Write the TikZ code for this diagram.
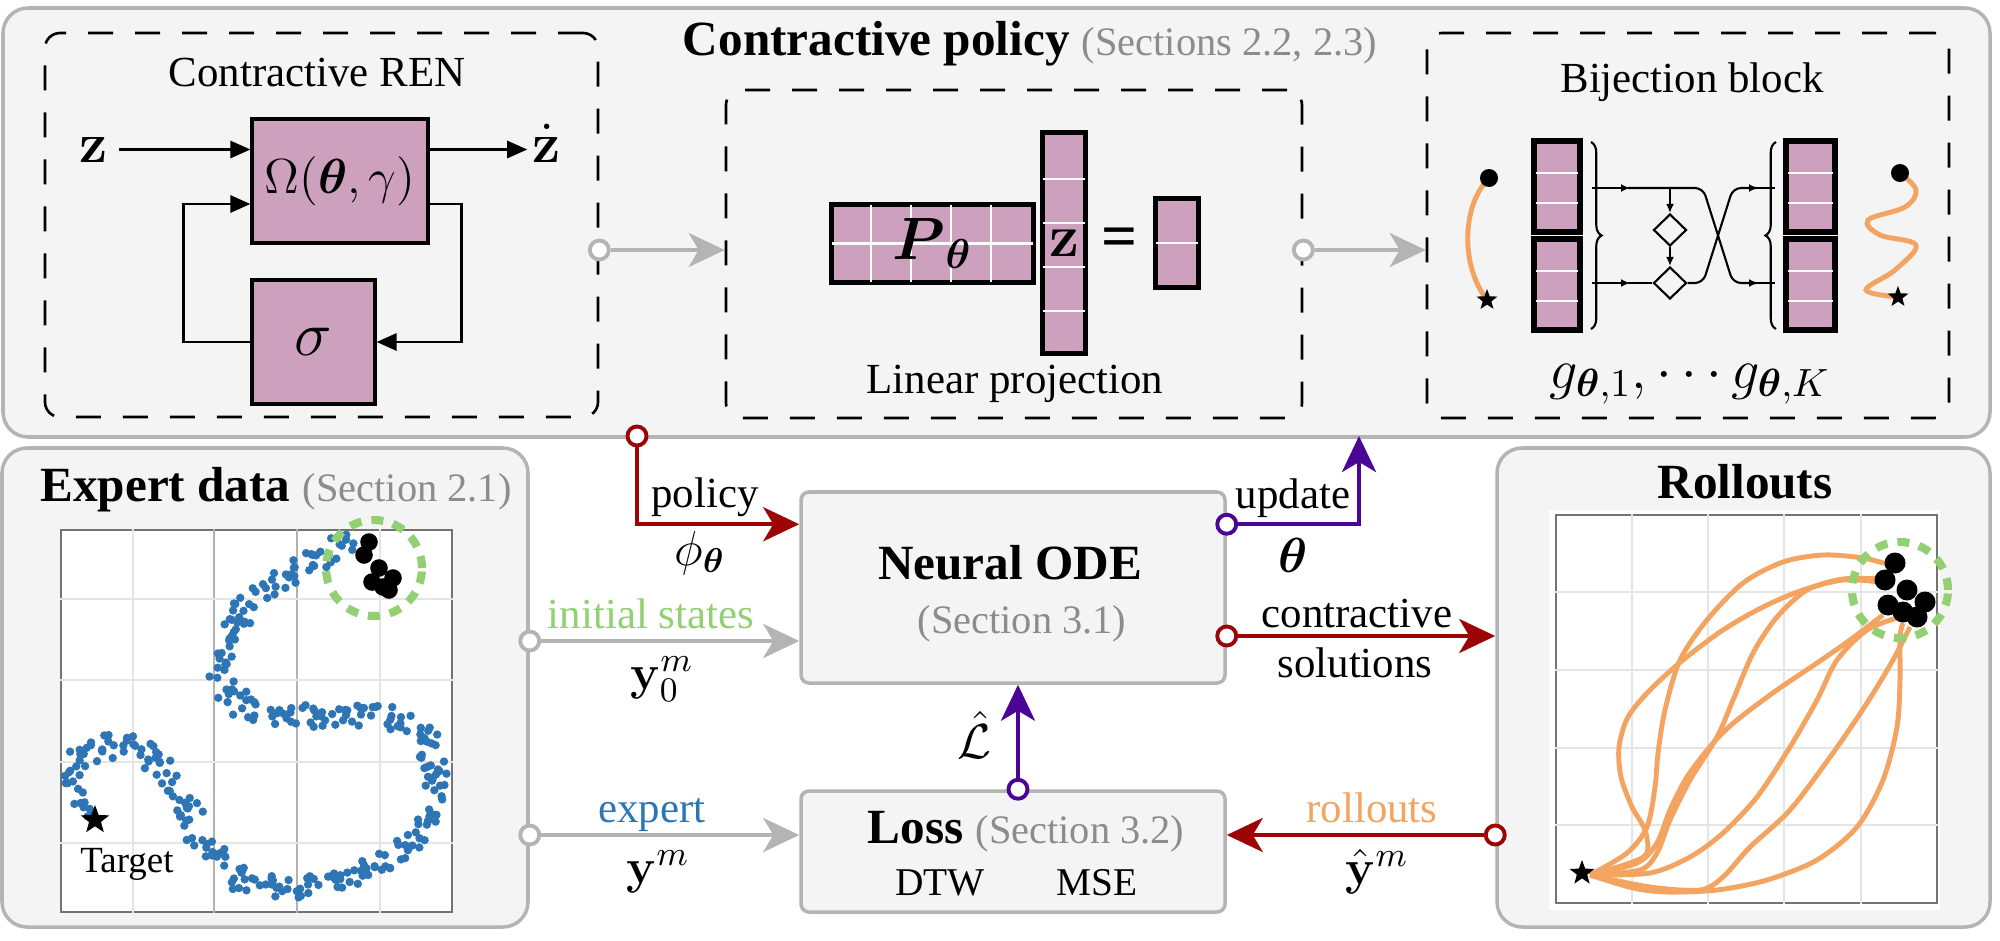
\RequirePackage{fix-cm}
\documentclass[tikz,border=0pt]{standalone}
\usepackage{amsmath}
\usepackage{amssymb}
\usepackage[no-math]{fontspec}
\setmainfont{Liberation Serif}
\usetikzlibrary{arrows.meta,positioning,shapes.geometric,decorations.pathreplacing}
\definecolor{P}{RGB}{205,161,190}
\definecolor{R}{RGB}{155,5,5}
\definecolor{V}{RGB}{75,5,150}
\definecolor{Gy}{RGB}{180,180,180}
\definecolor{G}{RGB}{146,208,115}
\definecolor{B}{RGB}{46,117,182}
\definecolor{O}{RGB}{243,164,96}
\definecolor{S}{RGB}{140,140,140}
\definecolor{bg}{RGB}{244,244,244}
\newcommand{\secref}[1]{{\normalfont\fontsize{11.5}{14}\selectfont\color{S}(#1)}}

\begin{document}
\begin{tikzpicture}[
  panel/.style={draw=Gy, line width=1pt, fill=bg, rounded corners=0.25cm, inner sep=0},
  dbox/.style={draw, line width=0.75pt, dash pattern=on 0.25cm off 0.22cm, rounded corners=0.15cm, inner sep=0},
  gbox/.style={draw=Gy, line width=1pt, fill=bg, rounded corners=0.08cm, inner sep=0},
  pbox/.style={draw, line width=0.9pt, fill=P, inner sep=0},
  port/.style={circle, draw, fill=white, line width=1.1pt, inner sep=0, minimum size=0.19cm},
  con/.style={line width=1.2pt, -{Stealth[length=0.36cm, width=0.34cm, inset=0.1cm]}},
  blk/.style={line width=0.8pt, -{Triangle[length=0.2cm, width=0.17cm]}},
  fine/.style={line width=0.6pt},
  marr/.style={-{Latex[length=0.09cm, width=0.08cm]}},
  cell/.style={white, line width=0.6pt},
  lbl/.style={font=\fontsize{12.2}{14}\selectfont, anchor=base, inner sep=0},
  ttl/.style={font=\fontsize{14}{16}\selectfont\bfseries, anchor=base, inner sep=0},
  mth/.style={font=\fontsize{14}{16}\selectfont, inner sep=0},
  ring/.style={draw=G, line width=2.3pt, dash pattern=on 0.12cm off 0.1cm},
  traj/.style={draw=O, line width=1.4pt},
  tgt/.style={star, star points=5, star point ratio=2.4, fill=black, inner sep=0},
]
\useasboundingbox (0,0) rectangle (20,9.4);

% panels
\node[panel, minimum width=19.87cm, minimum height=4.29cm] (top) at (9.965,7.175) {};
\node[panel, minimum width=5.26cm, minimum height=4.79cm] (expert) at (2.65,2.525) {};
\node[panel, minimum width=4.93cm, minimum height=4.79cm] (roll) at (17.435,2.525) {};

\node[ttl] (cpt) at (10.30,8.85) {Contractive policy \secref{Sections 2.2, 2.3}};

% contractive REN
\node[dbox, minimum width=5.53cm, minimum height=3.84cm] (ren) at (3.215,7.15) {};
\node[lbl] (rent) at (3.17,8.54) {Contractive REN};
\node[pbox, minimum width=1.76cm, minimum height=1.24cm, font=\fontsize{14}{16}\selectfont] (om) at (3.40,7.59) {$\Omega(\boldsymbol{\theta},\gamma)$};
\node[pbox, minimum width=1.23cm, minimum height=1.24cm, font=\fontsize{18}{20}\selectfont] (sig) at (3.135,5.98) {$\sigma$};
\node[font=\fontsize{16}{18}\selectfont, anchor=base, inner sep=0] (zin) at (0.94,7.78) {$\mathbf{z}$};
\node[font=\fontsize{16}{18}\selectfont, anchor=base, inner sep=0] (zout) at (5.47,7.78) {$\dot{\mathbf{z}}$};
\draw[blk] ([xshift=0.1cm]zin.east) -- (om.west |- zin);
\draw[blk] (om.east |- zin) -- ([xshift=-0.05cm]zout.west |- zin);
\draw[blk] ([yshift=-0.23cm]om.east) -- ++(0.32,0) |- (sig.east);
\draw[blk] (sig.west) -- ++(-0.67,0) |- ([yshift=-0.23cm]om.west);

% linear projection
\node[dbox, minimum width=5.76cm, minimum height=3.28cm] (lp) at (10.14,6.86) {};
\node[pbox, minimum width=2.01cm, minimum height=0.77cm] (pm) at (9.325,6.965) {};
\foreach \i in {1,...,4}
  \draw[cell] ([xshift=\i*0.402cm]pm.south west) -- ([xshift=\i*0.402cm]pm.north west);
\draw[cell] (pm.west) -- (pm.east);
\draw[line width=0.9pt] (pm.south west) rectangle (pm.north east);
\node[font=\fontsize{17}{19}\selectfont, inner sep=0] (pml) at (pm) {$\boldsymbol{P}_{\boldsymbol{\theta}}$};
\node[pbox, minimum width=0.42cm, minimum height=2.20cm] (zv) at (10.64,6.97) {};
\foreach \i in {1,...,4}
  \draw[cell] ([yshift=\i*0.44cm]zv.south west) -- ([yshift=\i*0.44cm]zv.south east);
\draw[line width=0.9pt] (zv.south west) rectangle (zv.north east);
\node[font=\fontsize{17}{19}\selectfont, inner sep=0] (zvl) at (zv) {$\mathbf{z}$};
\node[font=\fontsize{18}{20}\selectfont\bfseries, inner sep=0] (eq) at (11.195,6.97) {=};
\node[pbox, minimum width=0.42cm, minimum height=0.88cm] (rv) at (11.77,6.97) {};
\draw[cell] (rv.west) -- (rv.east);
\draw[line width=0.9pt] (rv.south west) rectangle (rv.north east);
\node[lbl] (lpt) at (10.15,5.47) {Linear projection};

% bijection block
\node[dbox, minimum width=5.22cm, minimum height=3.85cm] (bij) at (16.88,7.145) {};
\node[lbl] (bijt) at (16.92,8.48) {Bijection block};
\foreach \n/\x/\y/\w in {bl1/15.57/7.535/0.44cm, bl2/15.57/6.555/0.44cm, br1/18.105/7.535/0.47cm, br2/18.105/6.555/0.47cm}{
  \node[pbox, minimum width=\w, minimum height=0.89cm] (\n) at (\x,\y) {};
  \draw[cell] ([yshift=0.297cm]\n.south west) -- ([yshift=0.297cm]\n.south east);
  \draw[cell] ([yshift=0.593cm]\n.south west) -- ([yshift=0.593cm]\n.south east);
  \draw[line width=1.3pt] (\n.south west) rectangle (\n.north east);
}
\draw[fine, decorate, decoration={brace, amplitude=3pt}] (15.91,7.98) -- (15.91,6.11);
\draw[fine, decorate, decoration={brace, amplitude=3pt}] (17.76,6.11) -- (17.76,7.98);
\node[diamond, draw, fine, fill=bg, minimum width=0.33cm, minimum height=0.32cm, inner sep=0] (d1) at (16.70,7.10) {};
\node[diamond, draw, fine, fill=bg, minimum width=0.33cm, minimum height=0.32cm, inner sep=0] (d2) at (16.70,6.57) {};
\draw[fine, marr] (15.92,7.52) -- (16.30,7.52);
\draw[fine, rounded corners=0.08cm] (16.28,7.52) -- (17.03,7.52) -- (17.33,6.57) -- (17.56,6.57);
\draw[fine, marr] (17.50,6.57) -- (17.58,6.57);
\draw[fine] (17.56,6.57) -- (17.75,6.57);
\draw[fine, marr] (15.92,6.57) -- (16.30,6.57);
\draw[fine] (16.28,6.57) -- (d2.west);
\draw[fine, rounded corners=0.08cm] (d2.east) -- (17.03,6.57) -- (17.33,7.52) -- (17.56,7.52);
\draw[fine, marr] (17.50,7.52) -- (17.58,7.52);
\draw[fine] (17.56,7.52) -- (17.75,7.52);
\draw[fine, marr] (16.70,7.52) -- (d1.north);
\draw[fine, marr] (d1.south) -- (d2.north);

\coordinate (ld) at (14.89,7.62);
\coordinate (ls) at (14.87,6.40);
\draw[traj] (ld) .. controls (14.62,7.35) and (14.60,6.75) .. (ls);
\fill (ld) circle (0.09);
\node[tgt, minimum size=0.22cm] (lstar) at (ls) {};
\coordinate (rd) at (19.00,7.67);
\coordinate (rs) at (18.98,6.43);
\draw[traj] plot[smooth, tension=0.6] coordinates {(19.00,7.67) (19.16,7.50) (19.05,7.33) (18.68,7.20) (18.80,7.05) (19.16,6.95) (18.95,6.70) (18.66,6.50) (18.98,6.43)};
\fill (rd) circle (0.09);
\node[tgt, minimum size=0.22cm] (rstar) at (rs) {};
\node[font=\fontsize{16}{18}\selectfont, anchor=base, inner sep=0] (gl) at (16.90,5.52) {$g_{\boldsymbol{\theta},1},\cdots g_{\boldsymbol{\theta},K}$};

\node[port, draw=Gy] (p1) at (ren.east |- 0,6.90) {};
\draw[con, Gy] (p1) -- (lp.west |- p1);
\node[port, draw=Gy] (p2) at (lp.east |- 0,6.90) {};
\draw[con, Gy] (p2) -- (bij.west |- p2);

% neural ODE and loss
\node[gbox, minimum width=4.24cm, minimum height=1.91cm] (ode) at (10.13,3.525) {};
\node[ttl] (odet) at (10.10,3.61) {Neural ODE};
\node[anchor=base, inner sep=0, font=\fontsize{11.5}{14}\selectfont, text=S] (odes) at (10.22,3.07) {(Section 3.1)};
\node[gbox, minimum width=4.24cm, minimum height=1.21cm] (loss) at (10.13,0.885) {};
\node[ttl] (losst) at (10.26,0.97) {Loss \secref{Section 3.2}};
\node[anchor=base, inner sep=0, font=\fontsize{11.2}{13}\selectfont] (dtw) at (9.40,0.45) {DTW};
\node[anchor=base, inner sep=0, font=\fontsize{11.2}{13}\selectfont] (mse) at (10.97,0.45) {MSE};

% connectors
\node[port, draw=R] (pol) at (6.37,5.04) {};
\draw[con, R] (pol) |- ([yshift=-0.34cm]ode.north west);
\node[lbl] (lpol) at (7.05,4.33) {policy};
\node[mth] (lphi) at (7.00,3.87) {$\phi_{\boldsymbol{\theta}}$};

\node[port, draw=V] (upd) at ([yshift=-0.34cm]ode.north east) {};
\coordinate (updend) at (13.59,5.04);
\draw[con, V] (upd) -| (updend);
\node[lbl] (lupd) at (12.93,4.32) {update};
\node[mth] (lth) at (12.93,3.85) {$\boldsymbol{\theta}$};

\node[port, draw=Gy] (ini) at (expert.east |- 0,2.99) {};
\draw[con, Gy] (ini) -- (ode.west |- ini);
\node[lbl, text=G] (lini) at (6.51,3.12) {initial states};
\node[mth] (ly0) at (6.62,2.61) {$\mathbf{y}_0^m$};

\node[port, draw=Gy] (exq) at (expert.east |- 0,1.05) {};
\draw[con, Gy] (exq) -- (loss.west |- exq);
\node[lbl, text=B] (lexp) at (6.52,1.18) {expert};
\node[mth] (lym) at (6.58,0.68) {$\mathbf{y}^m$};

\node[port, draw=V] (lq) at (loss.north -| 10.18,0) {};
\draw[con, V] (lq) -- (ode.south -| lq);
\node[mth] (lL) at (9.74,2.05) {$\hat{\mathcal{L}}$};

\node[port, draw=R] (sol) at (ode.east |- 0,3.04) {};
\draw[con, R] (sol) -- (roll.west |- sol);
\node[lbl] (lcon) at (13.57,3.13) {contractive};
\node[lbl] (lsol) at (13.55,2.63) {solutions};

\node[port, draw=R] (rq) at (roll.west |- 0,1.05) {};
\draw[con, R] (rq) -- (loss.east |- rq);
\node[lbl, text=O] (lrol) at (13.72,1.18) {rollouts};
\node[mth] (lyh) at (13.77,0.68) {$\hat{\mathbf{y}}^m$};

% expert data
\node[ttl] (expt) at (2.76,4.39) {Expert data \secref{Section 2.1}};
\node[draw=black!55, line width=0.5pt, fill=white, minimum width=3.91cm, minimum height=3.82cm, inner sep=0] (eplot) at (2.565,2.19) {};
\foreach \x in {1.33,3.80} \draw[black!10] (eplot.south -| \x,0) -- (eplot.north -| \x,0);
\foreach \x in {2.14,2.97} \draw[black!30] (eplot.south -| \x,0) -- (eplot.north -| \x,0);
\foreach \y in {3.41,2.60,1.78,0.97} \draw[black!10] (eplot.west |- 0,\y) -- (eplot.east |- 0,\y);
\pgfmathsetseed{42}
% noisy samples along the demonstrations
\foreach \xa/\ya/\xb/\yb in {3.55/3.97/3.10/3.77, 3.10/3.77/2.76/3.60, 2.76/3.60/2.48/3.37, 2.48/3.37/2.27/3.07,
  2.27/3.07/2.21/2.73, 2.21/2.73/2.34/2.40, 2.34/2.40/2.69/2.23, 2.69/2.23/3.27/2.23, 3.27/2.23/3.79/2.23,
  3.79/2.23/4.24/2.07, 4.24/2.07/4.38/1.67, 4.38/1.67/4.31/1.23, 4.31/1.23/3.96/0.83, 3.96/0.83/3.45/0.60,
  3.45/0.60/2.93/0.50, 2.93/0.50/2.41/0.60, 2.41/0.60/2.07/0.93, 2.07/0.93/1.83/1.33, 1.83/1.33/1.62/1.73,
  1.62/1.73/1.31/1.93, 1.31/1.93/0.93/1.93, 0.93/1.93/0.72/1.70, 0.72/1.70/0.79/1.40, 0.79/1.40/0.86/1.30}{
  \pgfmathsetmacro{\nk}{int(veclen(\xb-\xa,\yb-\ya)/0.028)}
  \foreach \k in {1,...,\nk}
    \fill[B] ({\xa+(\xb-\xa)*\k/\nk+rand*0.12},{\ya+(\yb-\ya)*\k/\nk+rand*0.12}) circle (0.042);
}
\draw[ring] (3.74,3.72) circle (0.48);
\foreach \x/\y in {3.69/3.98, 3.64/3.85, 3.79/3.72, 3.93/3.62, 3.72/3.58, 3.89/3.50, 3.83/3.53}
  \fill (\x,\y) circle (0.088);
\node[tgt, minimum size=0.30cm] (estar) at (0.95,1.20) {};
\node[anchor=base, inner sep=0, font=\fontsize{10.5}{12}\selectfont] (etgt) at (1.27,0.68) {Target};

% rollouts
\node[ttl] (rolt) at (17.45,4.42) {Rollouts};
\node[fill=white, minimum width=3.91cm, minimum height=4.0cm, inner sep=0] (rbg) at (17.445,2.30) {};
\node[draw=black!55, line width=0.6pt, minimum width=3.81cm, minimum height=3.88cm, inner sep=0] (rplot) at (17.465,2.31) {};
\foreach \x in {16.32,17.08,17.84,18.61} \draw[black!10] (rplot.south -| \x,0) -- (rplot.north -| \x,0);
\foreach \y in {3.48,2.70,1.92,1.15} \draw[black!10] (rplot.west |- 0,\y) -- (rplot.east |- 0,\y);
\draw[traj] plot[smooth] coordinates {(15.90,0.65) (16.27,0.87) (16.47,1.13) (16.55,1.53) (16.58,1.87) (16.65,2.30) (16.80,2.80) (17.07,3.20) (17.43,3.57) (17.83,3.78) (18.23,3.85) (18.63,3.82) (18.90,3.75)};
\draw[traj] plot[smooth] coordinates {(15.90,0.65) (16.30,0.77) (16.47,0.87) (16.45,1.10) (16.32,1.33) (16.21,1.63) (16.19,1.93) (16.28,2.23) (16.50,2.50) (16.83,2.80) (17.23,3.10) (17.63,3.33) (18.03,3.50) (18.43,3.60) (18.80,3.58)};
\draw[traj] plot[smooth] coordinates {(15.90,0.65) (16.37,0.77) (16.57,0.97) (16.70,1.30) (16.87,1.63) (17.13,1.97) (17.37,2.20) (17.77,2.50) (18.17,2.77) (18.50,3.00) (18.83,3.25)};
\draw[traj] plot[smooth] coordinates {(15.90,0.65) (16.40,0.70) (16.57,0.87) (16.70,1.20) (16.90,1.60) (17.17,2.03) (17.33,2.40) (17.53,2.87) (17.77,3.23) (18.07,3.50) (18.43,3.61) (18.80,3.61)};
\draw[traj] plot[smooth] coordinates {(15.90,0.65) (16.50,0.67) (16.90,0.83) (17.23,1.07) (17.57,1.43) (17.90,1.93) (18.17,2.40) (18.37,2.80) (18.67,3.10) (19.00,3.23)};
\draw[traj] plot[smooth] coordinates {(15.90,0.65) (16.50,0.53) (17.00,0.50) (17.23,0.63) (17.50,0.93) (17.90,1.30) (18.33,1.87) (18.67,2.37) (18.93,2.80) (19.10,3.13)};
\draw[traj] plot[smooth] coordinates {(15.90,0.65) (16.33,0.52) (16.67,0.48) (17.17,0.50) (17.67,0.60) (18.17,0.80) (18.57,1.13) (18.83,1.60) (18.97,2.13) (19.00,2.60) (19.00,3.03) (19.03,3.17)};
\draw[ring] (19.00,3.50) circle (0.48);
\foreach \x/\y in {18.95/3.77, 18.85/3.60, 19.07/3.50, 18.88/3.35, 19.25/3.38, 19.03/3.28, 19.17/3.23}
  \fill (\x,\y) circle (0.105);
\node[tgt, minimum size=0.26cm] (rstar2) at (15.82,0.67) {};
\end{tikzpicture}
\end{document}
